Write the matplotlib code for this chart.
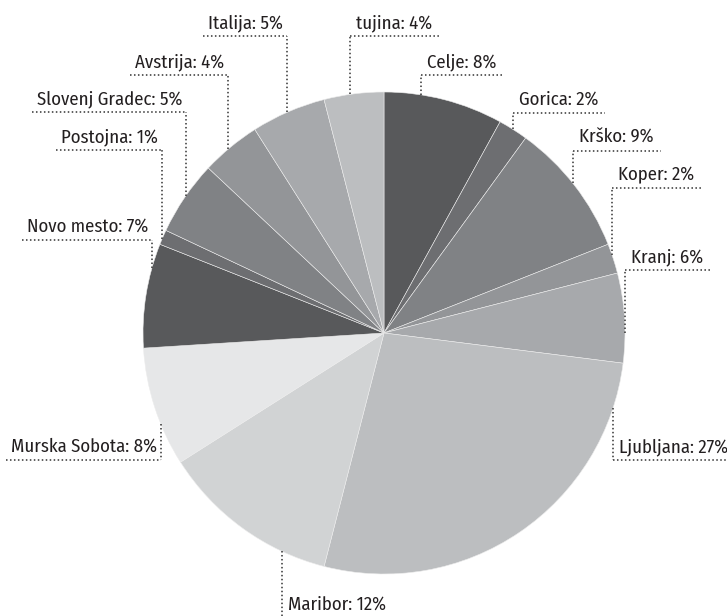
import numpy as np
import matplotlib
matplotlib.use('Agg')
import matplotlib.pyplot as plt

# shares by region, clockwise from 12 o'clock
regions = ['Celje', 'Gorica', 'Krško', 'Koper', 'Kranj', 'Ljubljana', 'Maribor',
           'Murska Sobota', 'Novo mesto', 'Postojna', 'Slovenj Gradec',
           'Avstrija', 'Italija', 'tujina']
shares = [8, 2, 9, 2, 6, 27, 12, 8, 7, 1, 5, 4, 5, 4]

colors = ['#58595b', '#6d6e71', '#808285', '#939598', '#a7a9ac', '#bcbec0', '#d1d3d4',
          '#e6e7e8', '#58595b', '#6d6e71', '#808285', '#939598', '#a7a9ac', '#bcbec0']

# leader layout in pixels: x of the vertical leader, y of the underline (from top),
# side the text sits on relative to the leader
leader_x = [421, 513, 573, 612, 625, 613, 282, 161, 152, 162, 186, 228, 287, 350]
underline_y = [75, 113, 151, 188, 270, 460, 618, 460, 240, 150, 112, 75, 36, 36]
side = ['r', 'r', 'r', 'r', 'r', 'r', 'r', 'l', 'l', 'l', 'l', 'l', 'l', 'r']

W, H = 727, 616
cx, cy, R = 384, H - 333, 241

plt.rcParams['font.family'] = ['Fira Sans Condensed', 'DejaVu Sans']

fig = plt.figure(figsize=(W / 100, H / 100), dpi=100)
ax = fig.add_axes([0, 0, 1, 1])

ax.pie(shares, colors=colors, startangle=90, counterclock=False,
       center=(cx, cy), radius=R, frame=True,
       wedgeprops=dict(edgecolor='#ececec', linewidth=0.4))
ax.set_xlim(0, W)
ax.set_ylim(0, H)
ax.set_aspect('auto')
ax.axis('off')

renderer = fig.canvas.get_renderer()
inv = ax.transData.inverted()
dots = dict(color='#333333', lw=1.1, linestyle=(0, (1, 1.6)), clip_on=False)

for name, pct, vx, uy, s in zip(regions, shares, leader_x, underline_y, side):
    uy = H - uy
    # where the leader meets the rim, on the side facing the label
    dy = np.sqrt(max(R ** 2 - (vx - cx) ** 2, 0))
    ay = cy + dy if uy > cy else cy - dy
    ax.plot([vx, vx], [ay, uy], **dots)

    if s == 'r':
        t = ax.text(vx + 6, uy + 8, f'{name}: {pct}%', ha='left', va='baseline',
                    fontsize=13.5, color='#231f20')
    else:
        t = ax.text(vx - 4, uy + 8, f'{name}: {pct}%', ha='right', va='baseline',
                    fontsize=13.5, color='#231f20')
    bb = t.get_window_extent(renderer).transformed(inv)
    if s == 'r':
        ax.plot([vx, bb.x1 + 7], [uy, uy], **dots)
    else:
        ax.plot([bb.x0 - 5, vx], [uy, uy], **dots)

fig.savefig('out.png', dpi=100)
